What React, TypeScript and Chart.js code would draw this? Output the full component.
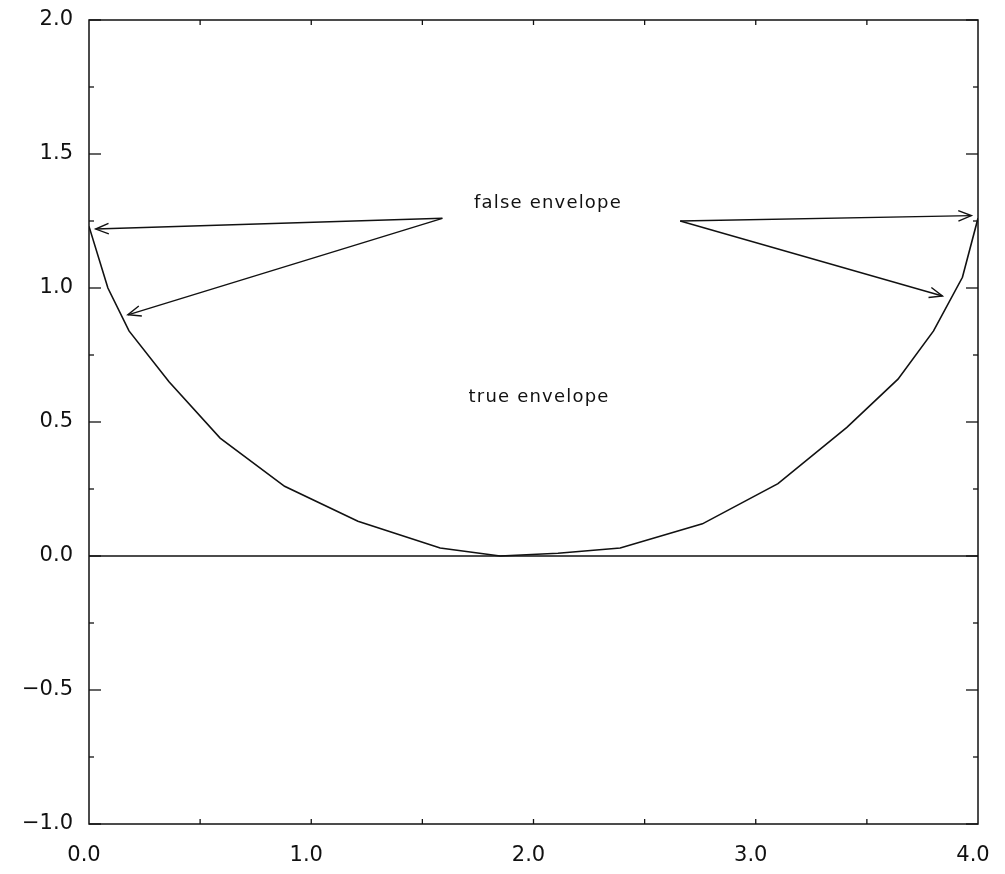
import React, { useEffect, useRef } from "react";
import { Chart, registerables } from "chart.js";

Chart.register(...registerables);

// True envelope: sampled polyline
const curveX = [0.0, 0.085, 0.18, 0.36, 0.59, 0.88, 1.21, 1.58, 1.85, 2.11, 2.39, 2.76, 3.1, 3.41, 3.64, 3.8, 3.93, 4.0];
const curveY = [1.23, 1.0, 0.84, 0.65, 0.44, 0.26, 0.13, 0.03, 0.0, 0.01, 0.03, 0.12, 0.27, 0.48, 0.66, 0.84, 1.04, 1.26];

// Zero reference line
const baseX = [0, 4];
const baseY = [0, 0];

// Annotation arrows (tail -> head)
const arrowStartX = [1.59, 1.59, 2.66, 2.66];
const arrowStartY = [1.26, 1.26, 1.25, 1.25];
const arrowEndX = [0.03, 0.175, 3.97, 3.84];
const arrowEndY = [1.22, 0.9, 1.27, 0.97];

// Text notes
const noteText = ["false envelope", "true envelope"];
const noteX = [2.065, 2.025];
const noteY = [1.317, 0.593];

// Tick marks drawn inside the frame
const yMajorTicks = [-1, -0.5, 0, 0.5, 1, 1.5, 2];
const yMinorTicks = [-0.75, -0.25, 0.25, 0.75, 1.25, 1.75];
const xTicks = [0.5, 1, 1.5, 2, 2.5, 3, 3.5];

const INK = "#111";
const FONT = "'DejaVu Sans', sans-serif";

const framePlugin = {
  id: "frameAndNotes",
  afterDatasetsDraw(chart: any) {
    const { ctx, chartArea, scales } = chart;
    const xs = scales.x;
    const ys = scales.y;
    const { left, right, top, bottom } = chartArea;
    ctx.save();
    ctx.strokeStyle = INK;
    ctx.lineWidth = 1.5;
    ctx.strokeRect(left, top, right - left, bottom - top);

    ctx.lineWidth = 1.3;
    const tick = (x1: number, y1: number, x2: number, y2: number) => {
      ctx.beginPath();
      ctx.moveTo(x1, y1);
      ctx.lineTo(x2, y2);
      ctx.stroke();
    };
    yMajorTicks.forEach((v) => {
      const py = ys.getPixelForValue(v);
      tick(left, py, left + 12, py);
      tick(right, py, right - 12, py);
    });
    yMinorTicks.forEach((v) => {
      const py = ys.getPixelForValue(v);
      tick(left, py, left + 5, py);
      tick(right, py, right - 5, py);
    });
    xTicks.forEach((v) => {
      const px = xs.getPixelForValue(v);
      tick(px, bottom, px, bottom - 5);
      tick(px, top, px, top + 5);
    });

    // arrows with open heads
    ctx.lineWidth = 1.4;
    for (let i = 0; i < arrowStartX.length; i++) {
      const x0 = xs.getPixelForValue(arrowStartX[i]);
      const y0 = ys.getPixelForValue(arrowStartY[i]);
      const x1 = xs.getPixelForValue(arrowEndX[i]);
      const y1 = ys.getPixelForValue(arrowEndY[i]);
      ctx.beginPath();
      ctx.moveTo(x0, y0);
      ctx.lineTo(x1, y1);
      ctx.stroke();
      const ang = Math.atan2(y1 - y0, x1 - x0);
      const len = 14;
      const spread = 0.38;
      ctx.beginPath();
      ctx.moveTo(x1 - len * Math.cos(ang - spread), y1 - len * Math.sin(ang - spread));
      ctx.lineTo(x1, y1);
      ctx.lineTo(x1 - len * Math.cos(ang + spread), y1 - len * Math.sin(ang + spread));
      ctx.stroke();
    }

    ctx.fillStyle = INK;
    ctx.font = `18px ${FONT}`;
    (ctx as any).letterSpacing = "1.2px";
    ctx.textAlign = "center";
    ctx.textBaseline = "middle";
    noteText.forEach((t, i) => {
      ctx.fillText(t, xs.getPixelForValue(noteX[i]), ys.getPixelForValue(noteY[i]));
    });
    ctx.restore();
  },
};

export default function App() {
  const canvasRef = useRef<HTMLCanvasElement | null>(null);

  useEffect(() => {
    if (!canvasRef.current) return;
    const toPts = (xa: number[], ya: number[]) => xa.map((x, i) => ({ x, y: ya[i] }));
    const chart = new Chart(canvasRef.current, {
      type: "scatter",
      data: {
        datasets: [
          {
            data: toPts(curveX, curveY),
            showLine: true,
            borderColor: INK,
            borderWidth: 1.6,
            pointRadius: 0,
            tension: 0,
          },
          {
            data: toPts(baseX, baseY),
            showLine: true,
            borderColor: INK,
            borderWidth: 1.6,
            pointRadius: 0,
          },
        ],
      },
      options: {
        animation: false,
        responsive: true,
        maintainAspectRatio: false,
        layout: { padding: { top: 12, right: 19, left: 0, bottom: 0 } },
        plugins: {
          legend: { display: false },
          tooltip: { enabled: false },
        },
        scales: {
          x: {
            type: "linear",
            min: 0,
            max: 4,
            grid: { display: false, drawTicks: false },
            border: { display: false },
            ticks: {
              stepSize: 1,
              autoSkip: false,
              maxRotation: 0,
              padding: 19,
              labelOffset: -5,
              color: INK,
              font: { family: FONT, size: 21 },
              callback: (v: any) => Number(v).toFixed(1),
            },
            afterFit: (s: any) => {
              s.height = 42;
              s.paddingLeft = 0;
              s.paddingRight = 0;
            },
          },
          y: {
            type: "linear",
            min: -1,
            max: 2,
            grid: { display: false, drawTicks: false },
            border: { display: false },
            ticks: {
              stepSize: 0.5,
              autoSkip: false,
              padding: 16,
              color: INK,
              font: { family: FONT, size: 21 },
              callback: (v: any) => {
                const n = Number(v);
                return (n < 0 ? "\u2212" : "") + Math.abs(n).toFixed(1);
              },
            },
            afterFit: (s: any) => {
              s.width = 81;
              s.paddingTop = 0;
              s.paddingBottom = 0;
            },
          },
        },
      },
      plugins: [framePlugin],
    });
    return () => chart.destroy();
  }, []);

  return (
    <div style={{ width: 989, height: 858, position: "relative", background: "#fff" }}>
      <canvas ref={canvasRef} />
    </div>
  );
}
